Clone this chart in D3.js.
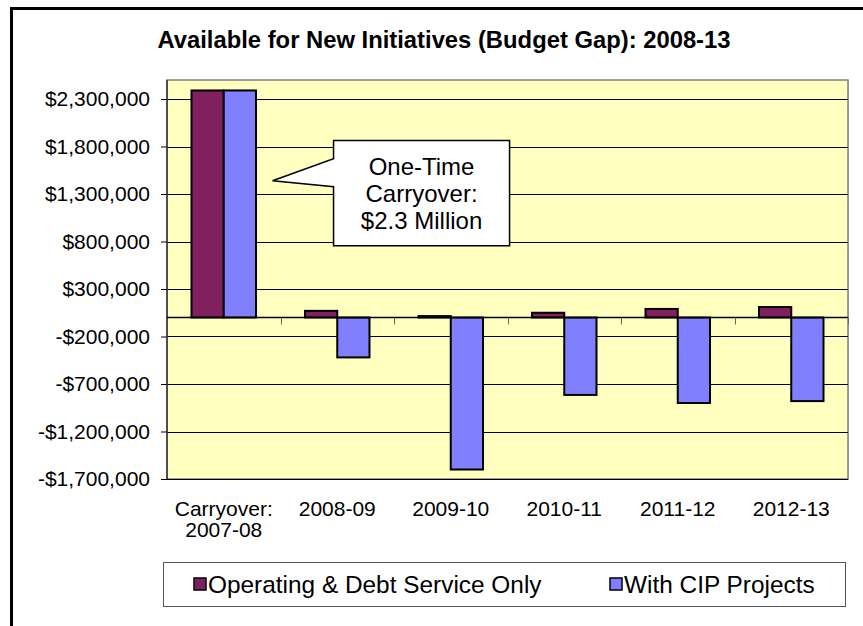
<!DOCTYPE html>
<html>
<head>
<meta charset="utf-8">
<script src="https://cdn.jsdelivr.net/npm/d3@7/dist/d3.min.js"></script>
<style>
  html, body { margin: 0; padding: 0; background: #fff; }
  svg text { font-family: "Liberation Sans", Arial, sans-serif; fill: #000; }
</style>
</head>
<body>
<div id="chart"></div>
<script>
// chart data
const categories = ["Carryover: 2007-08", "2008-09", "2009-10", "2010-11", "2011-12", "2012-13"]
const seriesNames = ["Operating & Debt Service Only", "With CIP Projects"]
const operatingOnly = [2390000, 70000, 15000, 50000, 90000, 110000]
const withCip = [2390000, -420000, -1600000, -815000, -900000, -880000]
const yTicks = [-1700000, -1200000, -700000, -200000, 300000, 800000, 1300000, 1800000, 2300000]
const calloutLines = ["One-Time", "Carryover:", "$2.3 Million"]

const colors = ["#80205F", "#8080FF"]

let width = 863,
    height = 626

let svg = d3.select("#chart")
    .append("svg")
    .attr("width", width)
    .attr("height", height)

// outer chart frame (right and bottom run off the page)
svg.append("rect")
    .attr("x", 11.5).attr("y", 8.5)
    .attr("width", 880).attr("height", 640)
    .attr("fill", "#fff")
    .attr("stroke", "#000")
    .attr("stroke-width", 3)

svg.append("text")
    .attr("x", 444).attr("y", 48)
    .attr("text-anchor", "middle")
    .attr("font-size", 23.8)
    .attr("font-weight", "bold")
    .text("Available for New Initiatives (Budget Gap): 2008-13")

let plot = { left: 167, top: 80, right: 848, bottom: 479 }

let x0 = d3.scaleBand()
    .domain(categories)
    .range([plot.left, plot.right])
    .padding(0)

let x1 = d3.scaleBand()
    .domain(seriesNames)
    .range([0, x0.bandwidth()])
    .paddingInner(0)
    .paddingOuter(0.76)

let y = d3.scaleLinear()
    .domain([-1700000, 2500000])
    .range([plot.bottom, plot.top])

// plot background
svg.append("rect")
    .attr("x", plot.left + 1).attr("y", plot.top + 1)
    .attr("width", plot.right - plot.left).attr("height", plot.bottom - plot.top)
    .attr("fill", "#d0d0d0")
svg.append("rect")
    .attr("x", plot.left).attr("y", plot.top)
    .attr("width", plot.right - plot.left).attr("height", plot.bottom - plot.top)
    .attr("fill", "#FFFFC0")
    .attr("stroke", "#808080")
    .attr("stroke-width", 1.5)

// gridlines
svg.append("g")
    .selectAll("line")
    .data(yTicks)
    .enter().append("line")
    .attr("x1", plot.left).attr("x2", plot.right)
    .attr("y1", d => Math.round(y(d)) + 0.5)
    .attr("y2", d => Math.round(y(d)) + 0.5)
    .attr("stroke", "#000")
    .attr("stroke-width", 1)

// y axis
let fmt = d3.format(",")
let yAxis = svg.append("g")
    .attr("transform", `translate(${plot.left},0)`)
    .call(d3.axisLeft(y)
        .tickValues(yTicks)
        .tickSize(6)
        .tickPadding(11)
        .tickFormat(d => (d < 0 ? "-" : "") + "$" + fmt(Math.abs(d))))
yAxis.select(".domain").remove()
yAxis.selectAll(".tick line").attr("stroke", "#000")
yAxis.selectAll("text")
    .attr("font-size", 21)
    .attr("font-family", "'Liberation Sans', Arial, sans-serif")
    .attr("fill", "#000")

svg.append("line")
    .attr("x1", plot.left).attr("x2", plot.left)
    .attr("y1", plot.top).attr("y2", plot.bottom)
    .attr("stroke", "#333").attr("stroke-width", 1.5)

// bars
let rows = categories.map((c, i) => ({ cat: c, values: [operatingOnly[i], withCip[i]] }))

let groups = svg.append("g")
    .selectAll("g")
    .data(rows)
    .enter().append("g")
    .attr("transform", d => `translate(${x0(d.cat)},0)`)

groups.selectAll("rect")
    .data(d => d.values.map((v, j) => ({ name: seriesNames[j], value: v, j: j })))
    .enter().append("rect")
    .attr("x", d => x1(d.name))
    .attr("width", x1.bandwidth())
    .attr("y", d => y(Math.max(0, d.value)))
    .attr("height", d => Math.abs(y(d.value) - y(0)))
    .attr("fill", d => colors[d.j])
    .attr("stroke", "#000")
    .attr("stroke-width", 2)

// zero line and category ticks
svg.append("line")
    .attr("x1", plot.left).attr("x2", plot.right)
    .attr("y1", y(0)).attr("y2", y(0))
    .attr("stroke", "#000").attr("stroke-width", 1.5)

svg.append("g")
    .selectAll("line")
    .data(categories.slice(1).concat(["end"]))
    .enter().append("line")
    .attr("x1", (d, i) => Math.round(plot.left + x0.step() * (i + 1)) + 0.5)
    .attr("x2", (d, i) => Math.round(plot.left + x0.step() * (i + 1)) + 0.5)
    .attr("y1", y(0)).attr("y2", y(0) + 7)
    .attr("stroke", "#666").attr("stroke-width", 1)

// category labels
let labels = svg.append("g")
    .selectAll("text")
    .data(categories)
    .enter().append("text")
    .attr("x", d => x0(d) + x0.bandwidth() / 2)
    .attr("y", 516)
    .attr("text-anchor", "middle")
    .attr("font-size", 21)

labels.each(function(d) {
    let parts = d.indexOf(": ") > 0 ? [d.split(": ")[0] + ":", d.split(": ")[1]] : [d]
    d3.select(this).selectAll("tspan")
        .data(parts)
        .enter().append("tspan")
        .attr("x", x0(d) + x0.bandwidth() / 2)
        .attr("dy", (p, k) => k === 0 ? 0 : 21)
        .text(p => p)
})

// callout on the carryover bars
let tipX = x0(categories[0]) + x0.bandwidth() * 0.93
let tipY = y(1440000)
let box = { left: tipX + 61, right: tipX + 237, top: y(1862000), bottom: y(754000) }
let callout = svg.append("g")
callout.append("path")
    .attr("d", `M${box.left},${box.top} H${box.right} V${box.bottom} H${box.left} V${tipY + 6} L${tipX},${tipY} L${box.left},${tipY - 22} Z`)
    .attr("fill", "#fff")
    .attr("stroke", "#000")
    .attr("stroke-width", 1.5)
callout.selectAll("text")
    .data(calloutLines)
    .enter().append("text")
    .attr("x", (box.left + box.right) / 2)
    .attr("y", (d, i) => 175 + i * 27)
    .attr("text-anchor", "middle")
    .attr("font-size", 24)
    .text(d => d)

// legend
let legend = svg.append("g")
legend.append("rect")
    .attr("x", 163.5).attr("y", 562.5)
    .attr("width", 682).attr("height", 44)
    .attr("fill", "#fff")
    .attr("stroke", "#555")
    .attr("stroke-width", 1)
let legendX = [194, 610]
seriesNames.forEach((name, i) => {
    legend.append("rect")
        .attr("x", legendX[i]).attr("y", 578)
        .attr("width", 12).attr("height", 12)
        .attr("fill", colors[i])
        .attr("stroke", "#000")
        .attr("stroke-width", 1.5)
    legend.append("text")
        .attr("x", legendX[i] + 14).attr("y", 593)
        .attr("font-size", 24.4)
        .text(name)
})
</script>
</body>
</html>
